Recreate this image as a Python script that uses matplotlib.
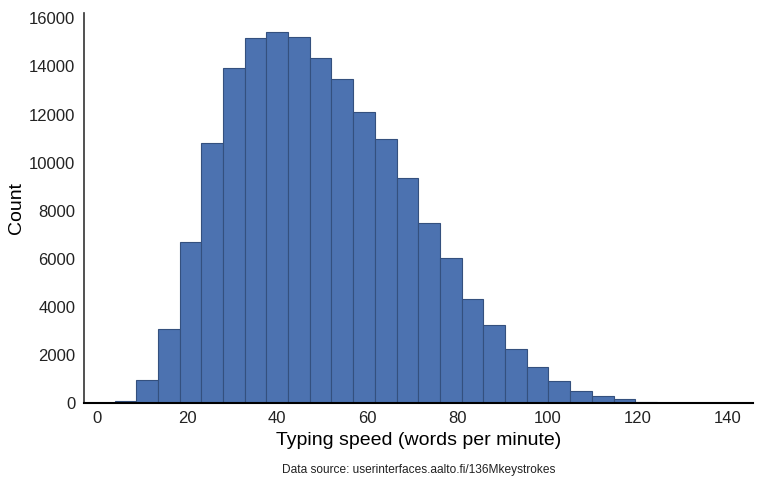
import matplotlib
matplotlib.use('Agg')
import matplotlib.pyplot as plt

plt.rcParams['font.family'] = ['Liberation Sans', 'DejaVu Sans']

# bin left edges (words per minute)
bin_left = [3.84, 8.66, 13.48, 18.30, 23.12, 27.94, 32.76, 37.58, 42.40, 47.22,
            52.04, 56.86, 61.68, 66.50, 71.32, 76.14, 80.96, 85.78, 90.60, 95.42,
            100.24, 105.06, 109.88, 114.70, 119.52, 124.34]
bin_width = 4.82
counts = [70, 980, 3070, 6680, 10830, 13920, 15200, 15450, 15240, 14370,
          13490, 12090, 10970, 9350, 7500, 6030, 4350, 3250, 2270, 1510,
          930, 510, 290, 170, 60, 20]
xticks = [0, 20, 40, 60, 80, 100, 120, 140]
yticks = [0, 2000, 4000, 6000, 8000, 10000, 12000, 14000, 16000]

fig = plt.figure(figsize=(7.68, 4.94), dpi=100)
ax = fig.add_axes([0.109, 0.184, 0.871, 0.790])

ax.bar(bin_left, counts, width=bin_width, align='edge',
       color='#4c72b0', edgecolor='#34507e', linewidth=0.8)

ax.set_xlim(-3.0, 145.6)
ax.set_ylim(0, 16230)
ax.set_xticks(xticks)
ax.set_yticks(yticks)
ax.tick_params(length=0, labelsize=12, pad=6, colors='#222222')

ax.spines['right'].set_visible(False)
ax.spines['top'].set_visible(False)
ax.spines['left'].set_color('#333333')
ax.spines['bottom'].set_color('black')
ax.spines['left'].set_linewidth(1.2)
ax.spines['bottom'].set_linewidth(1.5)

ax.set_xlabel('Typing speed (words per minute)', fontsize=14, labelpad=4)
ax.set_ylabel('Count', fontsize=14, labelpad=3)

fig.text(0.545, 0.048, 'Data source: userinterfaces.aalto.fi/136Mkeystrokes',
         ha='center', va='center', fontsize=8.6, color='#222222')

fig.savefig('out.png', dpi=100)
